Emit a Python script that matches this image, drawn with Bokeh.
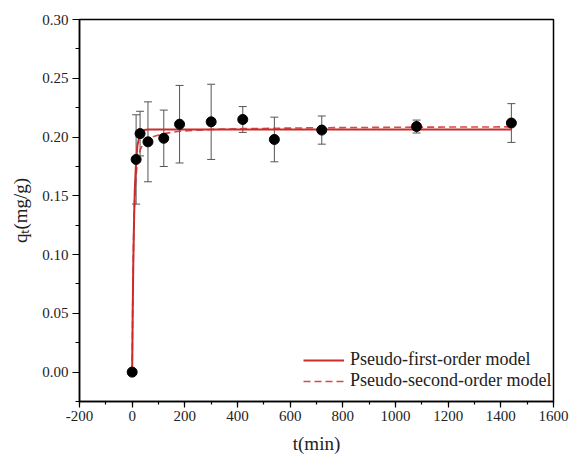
from bokeh.plotting import figure
from bokeh.models import (ColumnDataSource, Whisker, TeeHead, Legend, LegendItem,
                          SingleIntervalTicker, NumeralTickFormatter, Range1d)
from bokeh.embed import file_html
from bokeh.resources import INLINE

# measured data
t_min = [0, 15, 30, 60, 120, 180, 300, 420, 540, 720, 1080, 1440]
q_t = [0.0, 0.181, 0.203, 0.196, 0.199, 0.211, 0.213, 0.215, 0.198, 0.206, 0.209, 0.212]
q_err = [0.0, 0.038, 0.019, 0.034, 0.024, 0.033, 0.032, 0.011, 0.019, 0.012, 0.0055, 0.0165]

# model curves
pfo_t = [0, 2, 4, 6, 8, 10, 15, 20, 30, 45, 60, 1440]
pfo_q = [0.0, 0.050, 0.088, 0.115, 0.138, 0.155, 0.180, 0.193, 0.203, 0.206, 0.2064, 0.2064]
pso_t = [0, 2, 4, 6, 8, 10, 15, 20, 30, 45, 60, 120, 180, 300, 420, 720, 1080, 1440]
pso_q = [0.0, 0.055, 0.095, 0.120, 0.137, 0.149, 0.168, 0.178, 0.189, 0.196, 0.199, 0.203,
         0.205, 0.2065, 0.2072, 0.2080, 0.2085, 0.2087]

x_label = "t(min)"
y_label = "q\u209c(mg/g)"
legend_labels = ["Pseudo-first-order model", "Pseudo-second-order model"]

FONT = "Liberation Serif"
RED = "#cc2b2b"
TXT = "#222222"

p = figure(width=576, height=456, output_backend="svg", toolbar_location=None,
           x_range=Range1d(-200, 1600), y_range=Range1d(-0.025, 0.3001))
p.min_border_left = 79
p.min_border_right = 23
p.min_border_top = 19
p.min_border_bottom = 55
p.background_fill_color = "white"
p.border_fill_color = "white"
p.outline_line_color = "black"
p.outline_line_width = 1.5
p.grid.visible = False

p.xaxis.ticker = SingleIntervalTicker(interval=200, num_minor_ticks=2)
p.yaxis.ticker = SingleIntervalTicker(interval=0.05, num_minor_ticks=2)
p.xaxis.formatter = NumeralTickFormatter(format="0")
p.yaxis.formatter = NumeralTickFormatter(format="0.00")
for ax in (p.xaxis, p.yaxis):
    ax.axis_line_width = 1.5
    ax.axis_line_color = "black"
    ax.major_tick_in = 0
    ax.minor_tick_in = 0
    ax.major_tick_line_width = 1.2
    ax.minor_tick_line_width = 1.2
    ax.major_label_text_font = FONT
    ax.major_label_text_font_size = "15px"
    ax.major_label_text_color = TXT
    ax.axis_label_text_font = FONT
    ax.axis_label_text_font_size = "19px"
    ax.axis_label_text_font_style = "normal"
    ax.axis_label_text_color = TXT
p.xaxis.major_tick_out = 6
p.xaxis.minor_tick_out = 3
p.yaxis.major_tick_out = 7
p.yaxis.minor_tick_out = 4
p.xaxis.major_label_standoff = 3
p.yaxis.major_label_standoff = 4
p.xaxis.axis_label = x_label
p.yaxis.axis_label = y_label
p.xaxis.axis_label_standoff = 9
p.yaxis.axis_label_standoff = 8

# model lines
r1 = p.line(pfo_t, pfo_q, line_color=RED, line_width=2)
r2 = p.line(pso_t, pso_q, line_color=RED, line_width=1.6, line_dash="7 4", line_alpha=0.85)

# error bars
upper = [q + e for q, e in zip(q_t, q_err)]
lower = [q - e for q, e in zip(q_t, q_err)]
src = ColumnDataSource(dict(t=t_min, q=q_t, upper=upper, lower=lower))
wh = Whisker(source=src, base="t", upper="upper", lower="lower", line_color="#555555",
             line_width=1,
             upper_head=TeeHead(size=8, line_color="#555555", line_width=1),
             lower_head=TeeHead(size=8, line_color="#555555", line_width=1))
p.add_layout(wh)

p.scatter("t", "q", source=src, size=10, color="black")

legend = Legend(items=[LegendItem(label=legend_labels[0], renderers=[r1]),
                       LegendItem(label=legend_labels[1], renderers=[r2])],
                location=(224, 10))
legend.label_text_font = FONT
legend.label_text_font_size = "18px"
legend.label_text_color = TXT
legend.glyph_width = 41
legend.glyph_height = 20
legend.label_height = 20
legend.label_standoff = 6
legend.spacing = 0
legend.padding = 0
legend.margin = 0
legend.border_line_alpha = 0
legend.background_fill_alpha = 0
p.add_layout(legend, "center")

open("out.html", "w").write(file_html(p, INLINE))
